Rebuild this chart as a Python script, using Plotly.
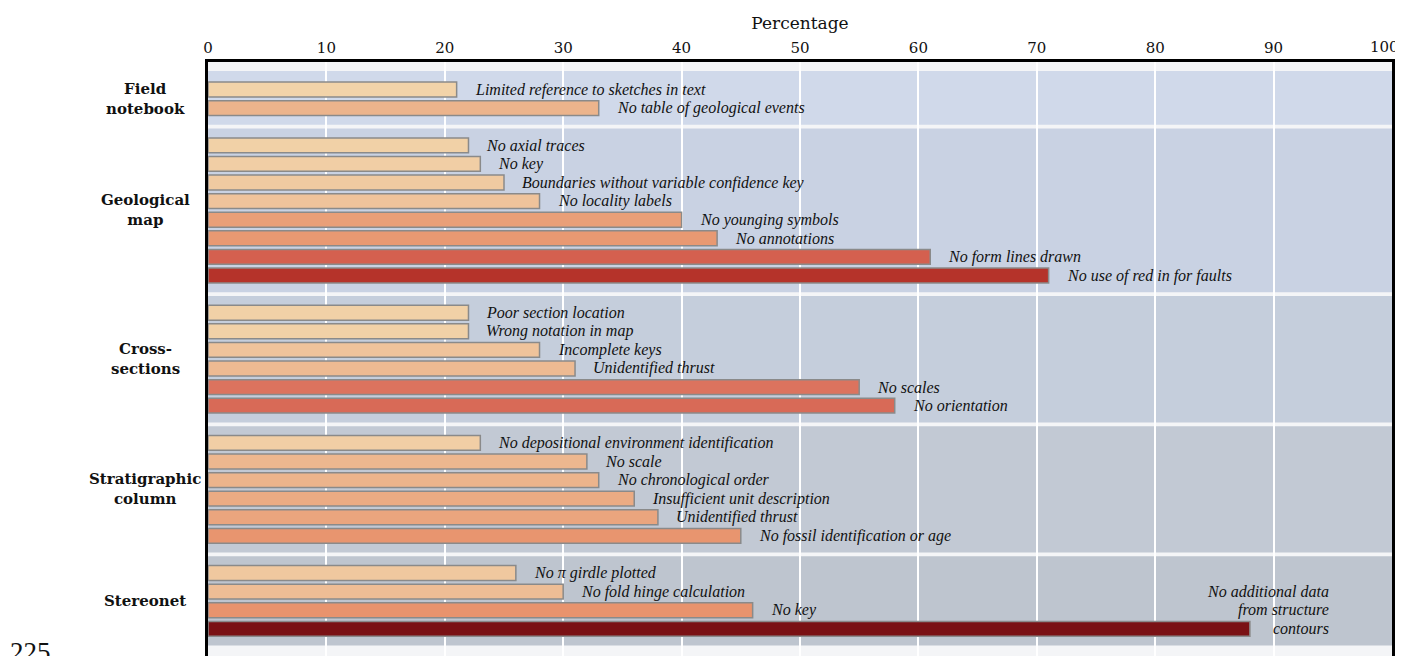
import plotly.graph_objects as go

# ---------------- data ----------------
group_names = ["Field<br>notebook", "Geological<br>map", "Cross-<br>sections",
               "Stratigraphic<br>column", "Stereonet"]

field_labels = ["Limited reference to sketches in text", "No table of geological events"]
field_values = [21, 33]

map_labels = ["No axial traces", "No key", "Boundaries without variable confidence key",
              "No locality labels", "No younging symbols", "No annotations",
              "No form lines drawn", "No use of red in for faults"]
map_values = [22, 23, 25, 28, 40, 43, 61, 71]

section_labels = ["Poor section location", "Wrong notation in map", "Incomplete keys",
                  "Unidentified thrust", "No scales", "No orientation"]
section_values = [22, 22, 28, 31, 55, 58]

column_labels = ["No depositional environment identification", "No scale",
                 "No chronological order", "Insufficient unit description",
                 "Unidentified thrust", "No fossil identification or age"]
column_values = [23, 32, 33, 36, 38, 45]

stereo_labels = ["No π girdle plotted", "No fold hinge calculation", "No key",
                 "No additional data<br>from structure<br>contours"]
stereo_values = [26, 30, 46, 88]

x_ticks = [0, 10, 20, 30, 40, 50, 60, 70, 80, 90, 100]
page_number = "225"

groups = [
    (group_names[0], field_labels, field_values),
    (group_names[1], map_labels, map_values),
    (group_names[2], section_labels, section_values),
    (group_names[3], column_labels, column_values),
    (group_names[4], stereo_labels, stereo_values),
]

# ---------------- styling ----------------
band_colors = ["#d0d9ea", "#c9d2e3", "#c5cedc", "#c2c9d4", "#bec5cf"]
colorscale = [
    [0.0, "#f2d5ab"], [0.118, "#efc39b"], [0.191, "#ecb48c"], [0.294, "#e99f78"],
    [0.382, "#e8936d"], [0.515, "#dc735e"], [0.603, "#d4604f"], [0.75, "#b5332a"],
    [1.0, "#7a1114"],
]
label_font = dict(family="Liberation Serif", size=16, color="#111", style="italic")
tick_font = dict(family="DejaVu Serif", size=15, color="#111")

slots, vals, labs, shapes, annotations = [], [], [], [], []
s = 0
for gi, (gname, glabels, gvalues) in enumerate(groups):
    first = s
    for lab, v in zip(glabels, gvalues):
        slots.append(s)
        vals.append(v)
        labs.append(lab)
        s += 1
    last = s - 1
    shapes.append(dict(type="rect", xref="paper", x0=0, x1=1, yref="y",
                       y0=first - 1 + (0.1 if gi > 0 else 0.0), y1=last + 1 - 0.1,
                       fillcolor=band_colors[gi], line=dict(width=0), layer="below"))
    annotations.append(dict(xref="paper", x=-63 / 1184, yref="y", y=(first + last) / 2,
                            text=gname, showarrow=False, xanchor="center", yanchor="middle",
                            align="center",
                            font=dict(family="DejaVu Serif", size=15, color="#111",
                                      weight="bold")))
    s += 1

for y, v, lab in zip(slots, vals, labs):
    lines = lab.split("<br>")
    if len(lines) > 1:
        n = len(lines)
        for k, line in enumerate(lines):
            annotations.append(dict(x=v, y=y - (n - 1 - k), text=line, showarrow=False,
                                    xanchor="right", yanchor="middle", xshift=81,
                                    font=label_font))
    else:
        annotations.append(dict(x=v, y=y, text=lab, showarrow=False, xanchor="left",
                                yanchor="middle", xshift=16, font=label_font))

# last tick label sits inside the page edge (right-aligned) as in the reference
tick_text = [str(t) for t in x_ticks[:-1]] + [""]
annotations.append(dict(xref="paper", yref="paper", x=1, y=1, text=str(x_ticks[-1]),
                        showarrow=False, xanchor="right", yanchor="bottom",
                        xshift=9, yshift=4, font=tick_font))

annotations.append(dict(xref="paper", yref="paper", x=-200 / 1184, y=0.036,
                        text=page_number, showarrow=False, xanchor="left", yanchor="top",
                        font=dict(family="Liberation Serif", size=27, color="#111")))

fig = go.Figure(go.Bar(
    x=vals, y=slots, orientation="h", width=0.8,
    marker=dict(color=vals, colorscale=colorscale, cmin=20, cmax=88,
                line=dict(color="#8a8a8a", width=1.5)),
    hoverinfo="x",
))

fig.update_layout(
    width=1395, height=648,
    margin=dict(l=200, r=11, t=54, b=0),
    paper_bgcolor="white", plot_bgcolor="#f4f5f7",
    showlegend=False,
    shapes=shapes, annotations=annotations,
    xaxis=dict(side="top", range=[0, 100], tickvals=x_ticks, ticktext=tick_text,
               showgrid=True, gridcolor="white", gridwidth=1.5, zeroline=False, ticks="",
               showline=True, linecolor="black", linewidth=3,
               tickfont=tick_font,
               title=dict(text="Percentage", standoff=6,
                          font=dict(family="DejaVu Serif", size=17, color="#111"))),
    yaxis=dict(range=[30.46, -1.48], showticklabels=False, showgrid=False, zeroline=False,
               ticks="", showline=True, mirror=True, linecolor="black", linewidth=3),
)

fig.write_html("out.html")
